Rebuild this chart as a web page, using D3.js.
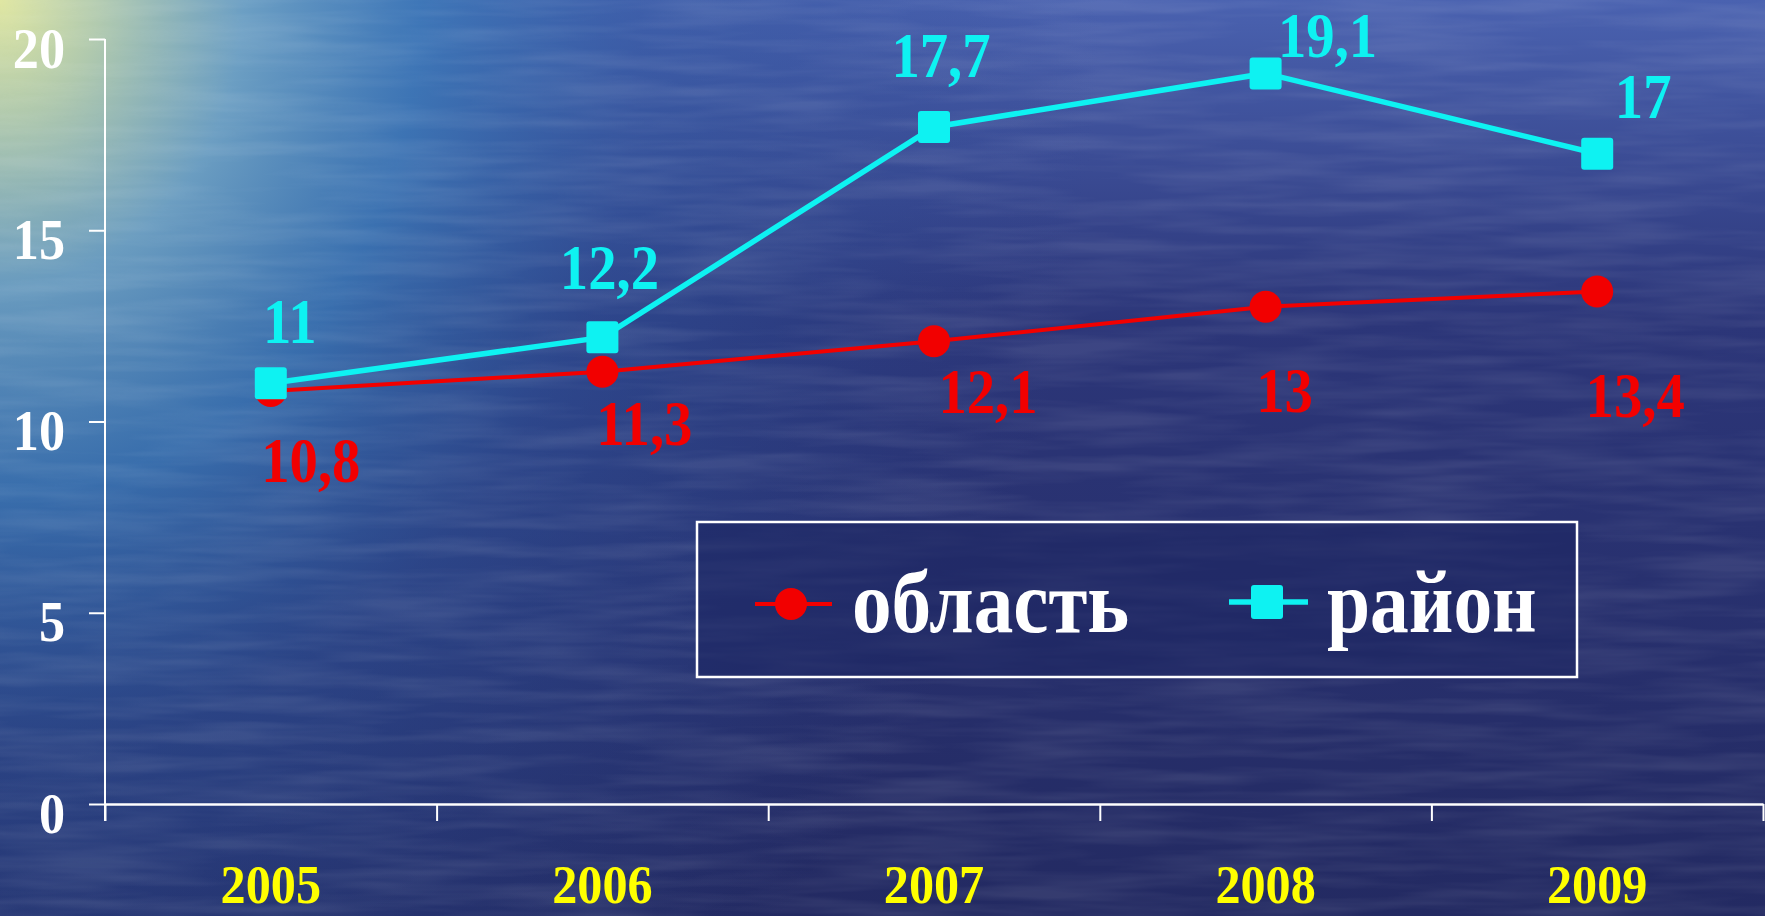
<html>
<head>
  <meta charset="utf-8">
  <script src="https://cdnjs.cloudflare.com/ajax/libs/d3/7.8.5/d3.min.js"></script>
  <style>
    body { margin: 0; background: #222c6c; overflow: hidden; }
    text { font-family: "Liberation Serif", "Times New Roman", serif; font-weight: bold; }
  </style>
</head>
<body>
  <div id="plot"></div>
  <script>

    // data
    var years = ["2005", "2006", "2007", "2008", "2009"];
    var oblast = [10.8, 11.3, 12.1, 13, 13.4];
    var rayon = [11, 12.2, 17.7, 19.1, 17];
    var seriesNames = ["область", "район"];
    var yTicks = [0, 5, 10, 15, 20];

    // hand-placed label offsets (dx from point, baseline dy from point)
    var oblastLabelOff = [[40, 91], [42, 73], [54, 72], [19, 105], [38, 126]];
    var rayonLabelOff = [[19, -40], [7, -48], [7, -50], [62, -16], [46, -36]];

    var W = 1765, H = 916;
    var RED = "#f20000", CYAN = "#0ef2f2";
    var squeeze = 0.9; // the slide font is a bit narrow

    var svg = d3.select("#plot").append("svg")
      .attr("width", W)
      .attr("height", H);

    // background: water photo imitation
    var defs = svg.append("defs");
    var lin = defs.append("linearGradient").attr("id", "bgLin")
      .attr("x1", 0).attr("y1", 0).attr("x2", 0).attr("y2", 1);
    lin.append("stop").attr("offset", "0").attr("stop-color", "#4a62b0");
    lin.append("stop").attr("offset", "0.35").attr("stop-color", "#2c3679");
    lin.append("stop").attr("offset", "1").attr("stop-color", "#232a62");

    var rad = defs.append("radialGradient").attr("id", "bgRad")
      .attr("gradientUnits", "userSpaceOnUse")
      .attr("cx", 0).attr("cy", 0).attr("r", 1300)
      .attr("gradientTransform", "scale(0.85,1)");
    rad.append("stop").attr("offset", "0").attr("stop-color", "#dfe6a0").attr("stop-opacity", 1);
    rad.append("stop").attr("offset", "0.09").attr("stop-color", "#b6cfae").attr("stop-opacity", 0.95);
    rad.append("stop").attr("offset", "0.22").attr("stop-color", "#70a6c6").attr("stop-opacity", 0.9);
    rad.append("stop").attr("offset", "0.38").attr("stop-color", "#3c7cba").attr("stop-opacity", 0.8);
    rad.append("stop").attr("offset", "0.58").attr("stop-color", "#305ca4").attr("stop-opacity", 0.45);
    rad.append("stop").attr("offset", "1").attr("stop-color", "#2a4590").attr("stop-opacity", 0);

    var filt = defs.append("filter").attr("id", "waves")
      .attr("x", 0).attr("y", 0).attr("width", "100%").attr("height", "100%");
    filt.append("feTurbulence").attr("type", "fractalNoise")
      .attr("baseFrequency", "0.006 0.07").attr("numOctaves", 3).attr("seed", 4);
    filt.append("feColorMatrix").attr("type", "matrix")
      .attr("values", "0 0 0 0 1  0 0 0 0 1  0 0 0 0 1  0 0 0 -2.2 1.45");

    svg.append("rect").attr("width", W).attr("height", H).attr("fill", "url(#bgLin)");
    svg.append("rect").attr("width", W).attr("height", H).attr("fill", "url(#bgRad)");
    svg.append("rect").attr("width", W).attr("height", H)
      .attr("filter", "url(#waves)").attr("opacity", 0.08);

    // scales
    var x = d3.scaleBand().domain(years).range([105, 1763]);
    var xEdges = d3.scaleLinear().domain([0, years.length]).range([105, 1763]);
    var y = d3.scaleLinear().domain([0, 20]).range([804, 39]);
    function cx(i) { return x(years[i]) + x.bandwidth() / 2; }

    // y axis
    var yAxis = d3.axisLeft(y).tickValues(yTicks).tickSize(16).tickSizeOuter(0);
    var gy = svg.append("g").attr("transform", "translate(105,0)").call(yAxis);
    gy.select(".domain").remove();
    gy.selectAll(".tick line").attr("stroke", "#fff").attr("stroke-width", 2);
    gy.selectAll(".tick text")
      .attr("x", null).attr("dy", null)
      .attr("transform", "translate(-40,28) scale(" + squeeze + ",1)")
      .attr("fill", "#fff")
      .style("font-size", "58px")
      .attr("text-anchor", "end");
    svg.append("line")
      .attr("x1", 105).attr("x2", 105)
      .attr("y1", y(20)).attr("y2", y(0) + 17)
      .attr("stroke", "#fff").attr("stroke-width", 2);

    // x axis (ticks between categories)
    var xAxis = d3.axisBottom(xEdges).ticks(years.length).tickSize(17).tickSizeOuter(0).tickFormat("");
    var gx = svg.append("g").attr("transform", "translate(0," + y(0) + ")").call(xAxis);
    gx.select(".domain").attr("stroke", "#fff").attr("stroke-width", 2.5);
    gx.selectAll(".tick line").attr("stroke", "#fff").attr("stroke-width", 2);

    svg.selectAll(".year")
      .data(years)
      .enter().append("text")
      .attr("class", "year")
      .attr("transform", function(d, i) { return "translate(" + cx(i) + ",903) scale(0.93,1)"; })
      .attr("text-anchor", "middle")
      .attr("fill", "#ffff00")
      .style("font-size", "54px")
      .text(function(d) { return d; });

    // lines
    var line = d3.line()
      .x(function(d, i) { return cx(i); })
      .y(function(d) { return y(d); });

    svg.append("path")
      .attr("d", line(oblast))
      .attr("fill", "none")
      .attr("stroke", RED)
      .attr("stroke-width", 4);

    svg.selectAll(".dot")
      .data(oblast)
      .enter().append("circle")
      .attr("class", "dot")
      .attr("cx", function(d, i) { return cx(i); })
      .attr("cy", function(d) { return y(d); })
      .attr("r", 16)
      .attr("fill", RED);

    svg.append("path")
      .attr("d", line(rayon))
      .attr("fill", "none")
      .attr("stroke", CYAN)
      .attr("stroke-width", 5.5);

    svg.selectAll(".sq")
      .data(rayon)
      .enter().append("rect")
      .attr("class", "sq")
      .attr("x", function(d, i) { return cx(i) - 16; })
      .attr("y", function(d) { return y(d) - 16; })
      .attr("width", 32).attr("height", 32)
      .attr("rx", 3)
      .attr("fill", CYAN);

    // value labels
    function fmt(v) { return String(v).replace(".", ","); }

    svg.selectAll(".lblO")
      .data(oblast)
      .enter().append("text")
      .attr("class", "lblO")
      .attr("transform", function(d, i) {
        return "translate(" + (cx(i) + oblastLabelOff[i][0]) + "," + (y(d) + oblastLabelOff[i][1]) + ") scale(" + squeeze + ",1)";
      })
      .attr("text-anchor", "middle")
      .attr("fill", RED)
      .style("font-size", "63px")
      .text(fmt);

    svg.selectAll(".lblR")
      .data(rayon)
      .enter().append("text")
      .attr("class", "lblR")
      .attr("transform", function(d, i) {
        return "translate(" + (cx(i) + rayonLabelOff[i][0]) + "," + (y(d) + rayonLabelOff[i][1]) + ") scale(" + squeeze + ",1)";
      })
      .attr("text-anchor", "middle")
      .attr("fill", CYAN)
      .style("font-size", "63px")
      .text(fmt);

    // legend
    var lg = svg.append("g");
    lg.append("rect")
      .attr("x", 697).attr("y", 522)
      .attr("width", 880).attr("height", 155)
      .attr("fill", "#1c2460").attr("fill-opacity", 0.55)
      .attr("stroke", "#fff").attr("stroke-width", 2.5);

    lg.append("line").attr("x1", 755).attr("x2", 832).attr("y1", 604).attr("y2", 604)
      .attr("stroke", RED).attr("stroke-width", 4);
    lg.append("circle").attr("cx", 791).attr("cy", 604).attr("r", 16).attr("fill", RED);
    lg.append("text")
      .attr("transform", "translate(852,632) scale(0.9,1)")
      .attr("fill", "#fff")
      .style("font-size", "88px")
      .text(seriesNames[0]);

    lg.append("line").attr("x1", 1229).attr("x2", 1308).attr("y1", 602).attr("y2", 602)
      .attr("stroke", CYAN).attr("stroke-width", 5.5);
    lg.append("rect").attr("x", 1251).attr("y", 585).attr("width", 32).attr("height", 34)
      .attr("rx", 3).attr("fill", CYAN);
    lg.append("text")
      .attr("transform", "translate(1327,632) scale(0.88,1)")
      .attr("fill", "#fff")
      .style("font-size", "88px")
      .text(seriesNames[1]);

  </script>
</body>
</html>
